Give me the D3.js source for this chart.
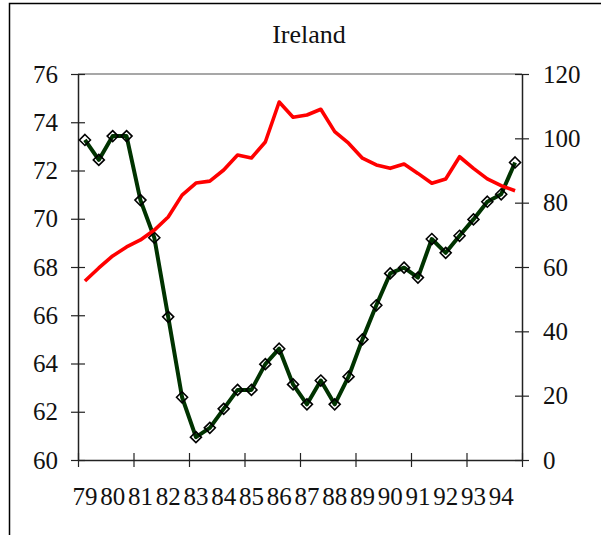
<!DOCTYPE html>
<html>
<head>
<meta charset="utf-8">
<script src="https://cdn.jsdelivr.net/npm/d3@7"></script>
<style>
  body { margin: 0; background: #fff; }
  text { font-family: "Liberation Serif", "DejaVu Serif", serif; fill: #111; }
</style>
</head>
<body>
<div id="chart"></div>
<script>
/* Ireland, two series on twin axes */

const title = "Ireland";
const years = ["79","80","81","82","83","84","85","86","87","88","89","90","91","92","93","94"];

// red series, left axis (two readings per year)
const redValues = [67.42, 67.96, 68.46, 68.83, 69.12, 69.53, 70.07, 70.98,
  71.48, 71.56, 72.02, 72.64, 72.52, 73.18, 74.84, 74.21,
  74.30, 74.54, 73.61, 73.13, 72.51, 72.23, 72.09, 72.27,
  71.88, 71.47, 71.65, 72.57, 72.09, 71.65, 71.37, 71.16];

// green series with diamond markers, right axis
const greenValues = [99.5, 93.3, 100.7, 100.7, 80.8, 69.1, 44.5, 19.5,
  7.1, 10.0, 15.9, 21.8, 21.8, 29.8, 34.6, 23.5,
  17.3, 24.7, 17.3, 25.9, 37.5, 48.1, 58.0, 59.8,
  56.7, 68.7, 64.4, 69.7, 74.8, 80.3, 82.6, 92.5];

const leftTicks = [60, 62, 64, 66, 68, 70, 72, 74, 76];
const rightTicks = [0, 20, 40, 60, 80, 100, 120];

let width = 601,
  height = 535,
  margin = ({ top: 74, right: 79, bottom: 75, left: 78 });

const svg = d3.select("#chart")
  .append("svg")
  .attr("width", width)
  .attr("height", height);

// outer frame (only left and top edges fall inside the picture)
svg.append("path")
  .attr("d", `M9.5,${height} V3.5 H${width}`)
  .attr("fill", "none")
  .attr("stroke", "#000")
  .attr("stroke-width", 1.5);

let n = redValues.length;

let x = d3.scaleLinear()
  .domain([-0.5, n - 0.5])
  .range([margin.left, width - margin.right]);

let yL = d3.scaleLinear()
  .domain([60, 76])
  .range([height - margin.bottom, margin.top]);

let yR = d3.scaleLinear()
  .domain([0, 120])
  .range([height - margin.bottom, margin.top]);

// top edge of the axis box, grey
svg.append("line")
  .attr("x1", margin.left).attr("x2", width - margin.right)
  .attr("y1", margin.top).attr("y2", margin.top)
  .attr("stroke", "#8a8a8a")
  .attr("stroke-width", 1.5);

let tickLen = 7;

// left axis
const gL = svg.append("g")
  .attr("transform", `translate(${margin.left},0)`)
  .call(d3.axisLeft(yL).tickValues(leftTicks).tickSize(tickLen).tickSizeOuter(0).tickPadding(13));
gL.selectAll(".tick line").attr("x2", tickLen).attr("x1", -tickLen);

// right axis
const gR = svg.append("g")
  .attr("transform", `translate(${width - margin.right},0)`)
  .call(d3.axisRight(yR).tickValues(rightTicks).tickSize(tickLen).tickSizeOuter(0).tickPadding(14));
gR.selectAll(".tick line").attr("x1", -tickLen).attr("x2", tickLen);

// bottom axis: ticks every two years, labels at each year
const xTicks = d3.range(-0.5, n, 4);
const gB = svg.append("g")
  .attr("transform", `translate(0,${height - margin.bottom})`)
  .call(d3.axisBottom(x).tickValues(xTicks).tickSize(tickLen).tickSizeOuter(0).tickFormat(""));
gB.selectAll(".tick line").attr("y1", -tickLen).attr("y2", tickLen);

[gL, gR, gB].forEach(g => {
  g.select(".domain").attr("stroke", "#222").attr("stroke-width", 1.5);
  g.selectAll(".tick line").attr("stroke", "#222").attr("stroke-width", 1.2);
  g.selectAll(".tick text")
    .style("font-size", "25px")
    .style("font-family", "'Liberation Serif', serif")
    .attr("fill", "#111");
});

svg.append("g")
  .selectAll("text")
  .data(years)
  .join("text")
  .attr("x", (d, i) => x(i * 2))
  .attr("y", 505)
  .attr("text-anchor", "middle")
  .style("font-size", "25px")
  .text(d => d);

svg.append("text")
  .attr("x", 309)
  .attr("y", 43)
  .attr("text-anchor", "middle")
  .style("font-size", "26px")
  .text(title);

// green line + hollow diamonds
let lineG = d3.line()
  .x((d, i) => x(i))
  .y(d => yR(d));

svg.append("path")
  .datum(greenValues)
  .attr("d", lineG)
  .attr("fill", "none")
  .attr("stroke", "#003300")
  .attr("stroke-width", 4)
  .attr("stroke-linejoin", "round");

svg.append("g")
  .selectAll("path")
  .data(greenValues)
  .join("path")
  .attr("transform", (d, i) => `translate(${x(i)},${yR(d)})`)
  .attr("d", "M0,-5.5 L5.5,0 L0,5.5 L-5.5,0 Z")
  .attr("fill", "none")
  .attr("stroke", "#000")
  .attr("stroke-width", 1.6);

// red line
let lineR = d3.line()
  .x((d, i) => x(i))
  .y(d => yL(d));

svg.append("path")
  .datum(redValues)
  .attr("d", lineR)
  .attr("fill", "none")
  .attr("stroke", "#ff0000")
  .attr("stroke-width", 3.6)
  .attr("stroke-linejoin", "round");
</script>
</body>
</html>
